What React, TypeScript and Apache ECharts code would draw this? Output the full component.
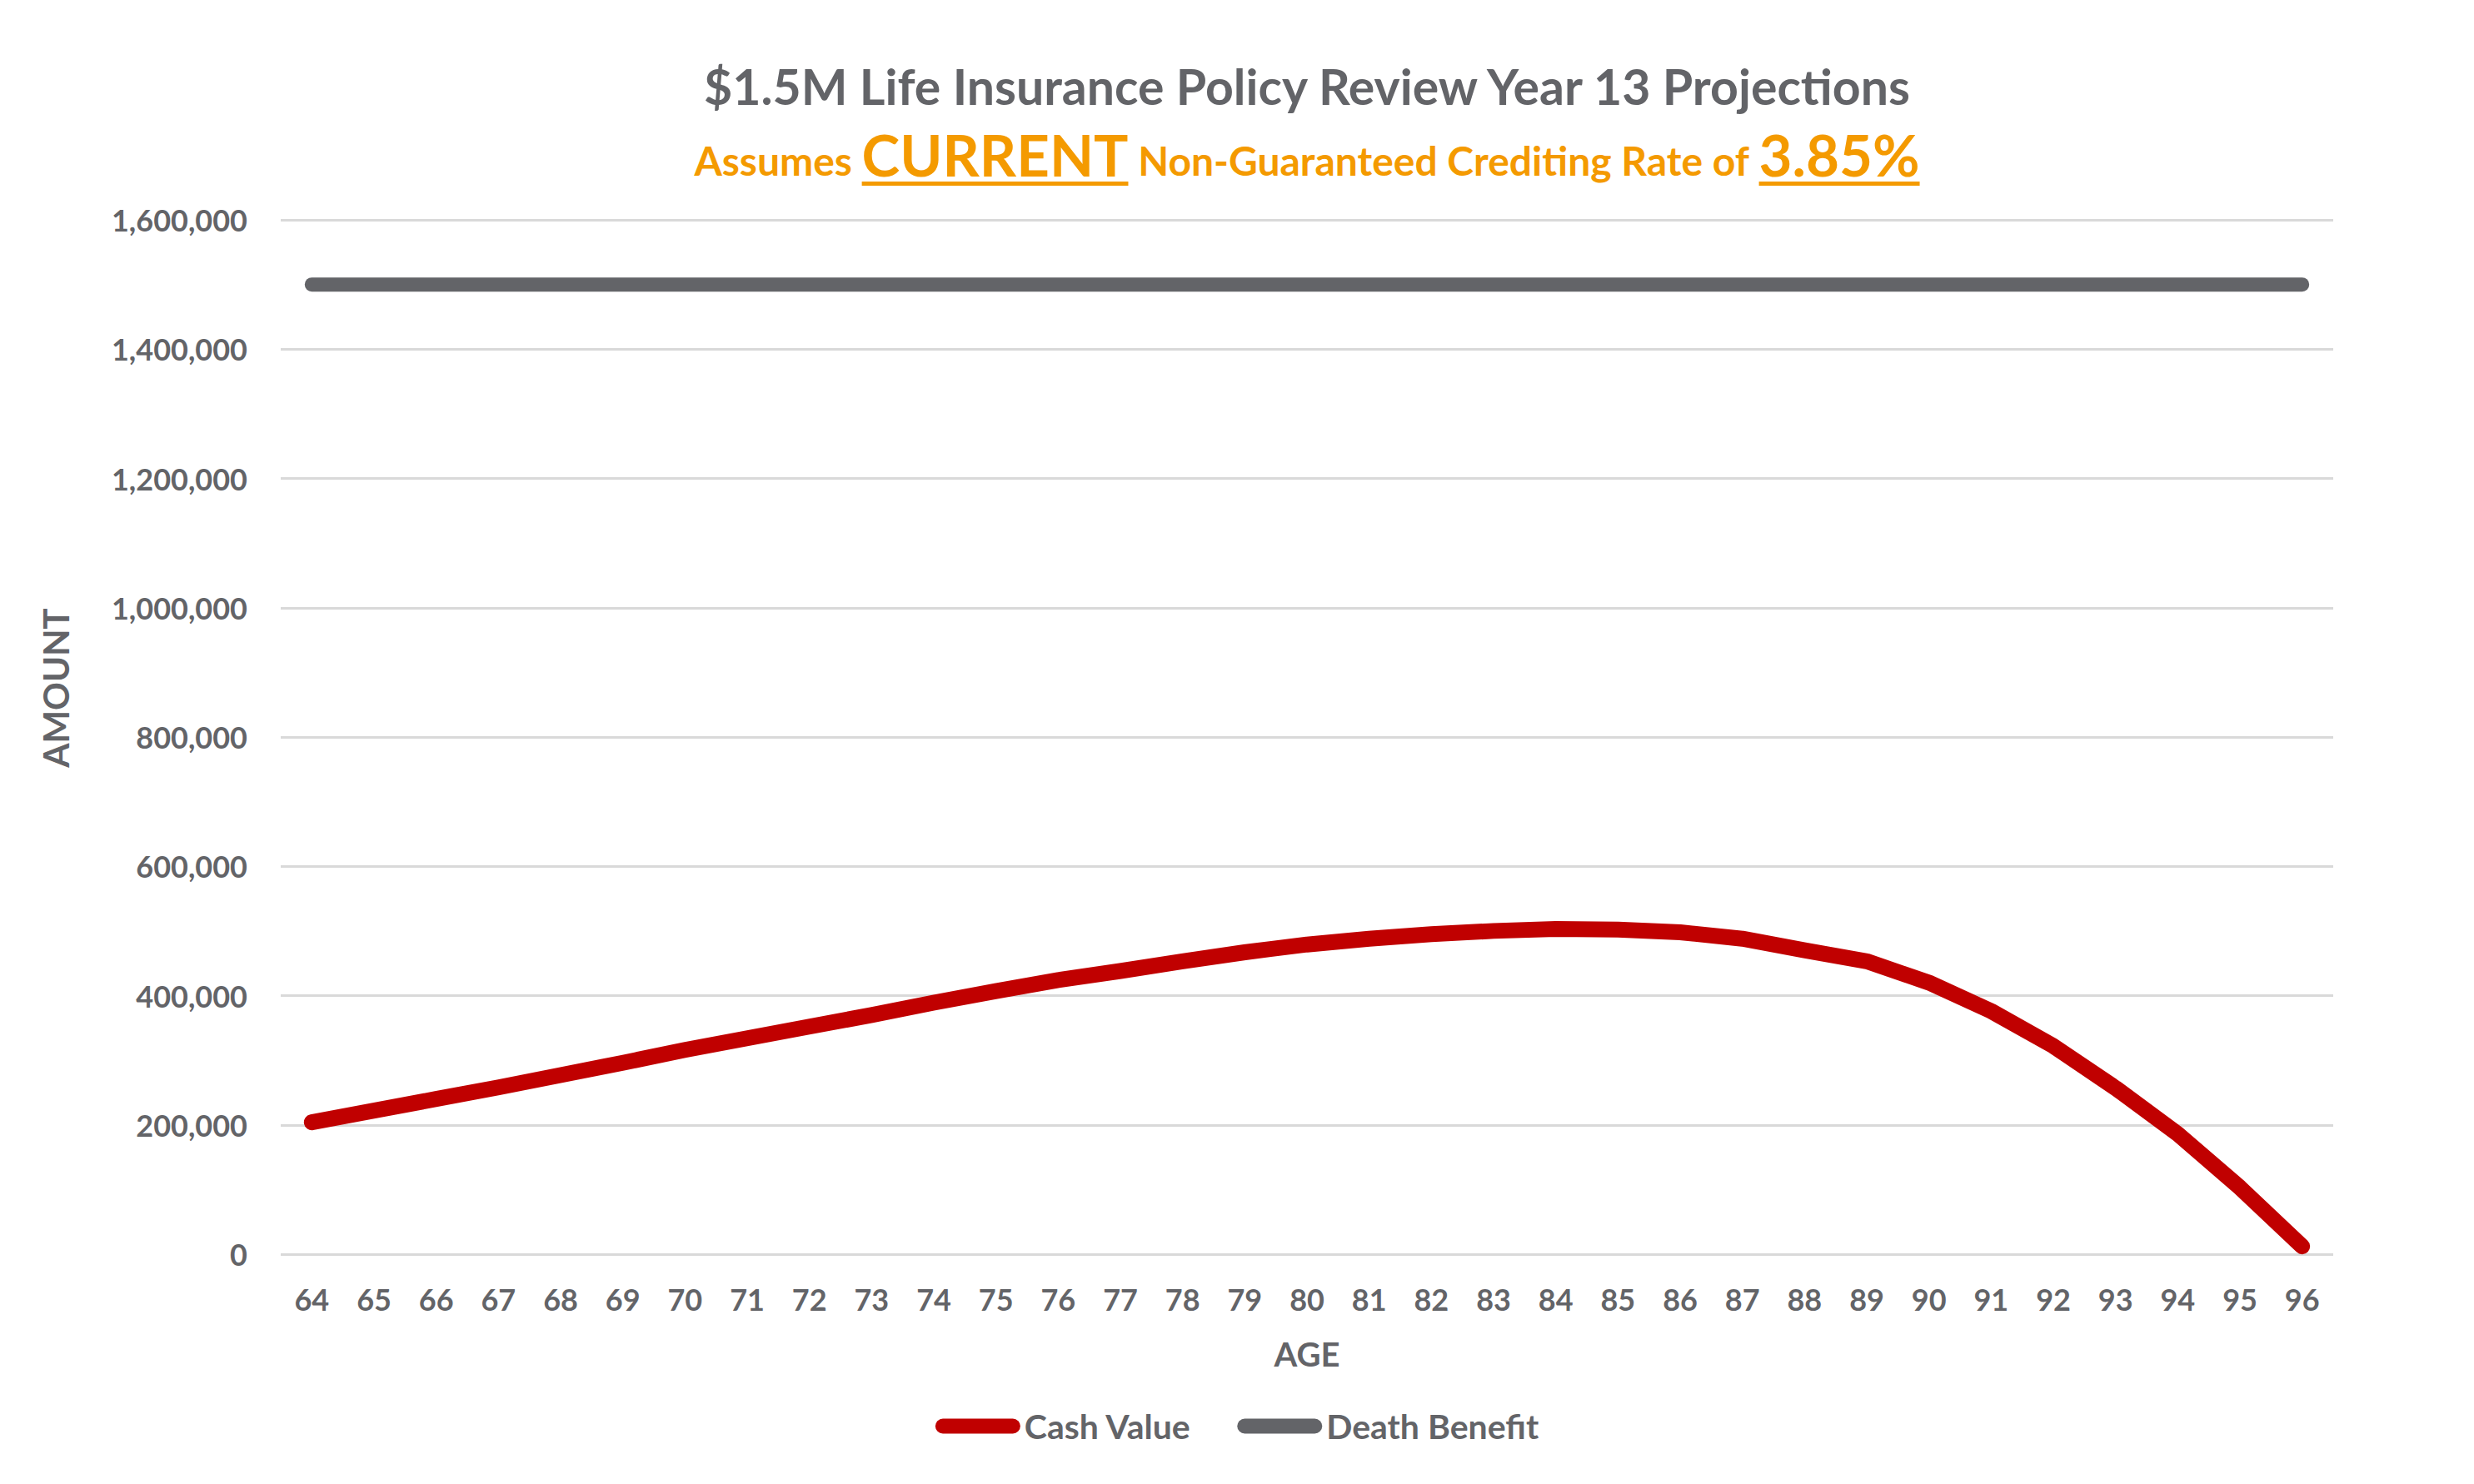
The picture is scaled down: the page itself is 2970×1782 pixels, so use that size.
import React, { useEffect, useRef } from "react";
import * as echarts from "echarts";

const ages: string[] = [
  "64", "65", "66", "67", "68", "69", "70", "71", "72", "73", "74", "75", "76", "77", "78", "79", "80",
  "81", "82", "83", "84", "85", "86", "87", "88", "89", "90", "91", "92", "93", "94", "95", "96",
];

const cashValue: number[] = [
  204000, 222000, 240000, 258000, 277000, 296000, 316000, 334000, 352000, 370000, 389000, 407000,
  424000, 438000, 453000, 467000, 479000, 488000, 495000, 500000, 503000, 502000, 498000, 488000,
  470000, 453000, 420000, 376000, 322000, 257000, 186000, 103000, 12000,
];

const deathBenefit: number[] = [
  1500000, 1500000, 1500000, 1500000, 1500000, 1500000, 1500000, 1500000, 1500000, 1500000, 1500000,
  1500000, 1500000, 1500000, 1500000, 1500000, 1500000, 1500000, 1500000, 1500000, 1500000, 1500000,
  1500000, 1500000, 1500000, 1500000, 1500000, 1500000, 1500000, 1500000, 1500000, 1500000, 1500000,
];

const yMin = 0;
const yMax = 1600000;
const yInterval = 200000;

const titleText = "$1.5M Life Insurance Policy Review Year 13 Projections";
const subtitleParts = [
  { text: "Assumes ", big: false },
  { text: "CURRENT", big: true },
  { text: " Non-Guaranteed Crediting Rate of ", big: false },
  { text: "3.85%", big: true },
];
const seriesNames = ["Cash Value", "Death Benefit"];
const xName = "AGE";
const yName = "AMOUNT";

const W = 2970;
const H = 1782;
const GRID = { left: 337, right: 169, top: 264, bottom: 276 };
const GRAY = "#636468";
const RED = "#C00000";
const ORANGE = "#F49A00";
const FONT = "Lato";

function measure(text: string, size: number): number {
  const c = document.createElement("canvas");
  const ctx = c.getContext("2d");
  if (!ctx) return text.length * size * 0.55;
  ctx.font = `bold ${size}px ${FONT}`;
  return ctx.measureText(text).width;
}

export default function App() {
  const ref = useRef<HTMLDivElement>(null);

  useEffect(() => {
    document.body.style.margin = "0";
    if (!ref.current) return;
    const chart = echarts.init(ref.current, undefined, { renderer: "svg" });

    const centerX = GRID.left + (W - GRID.left - GRID.right) / 2;

    // subtitle layout
    const smallSize = 48;
    const bigSize = 69;
    const baseline = 210;
    const widths = subtitleParts.map((p) => measure(p.text, p.big ? bigSize : smallSize));
    const total = widths.reduce((a, b) => a + b, 0);
    let cx = centerX - total / 2;
    const subElems: any[] = [];
    subtitleParts.forEach((p, i) => {
      const size = p.big ? bigSize : smallSize;
      subElems.push({
        type: "text",
        x: cx,
        y: baseline - 0.358 * size,
        silent: true,
        style: {
          text: p.text,
          fill: ORANGE,
          fontSize: size,
          fontWeight: "bold",
          fontFamily: FONT,
          align: "left",
          verticalAlign: "middle",
        },
      });
      if (p.big) {
        subElems.push({
          type: "rect",
          silent: true,
          shape: { x: cx, y: 218, width: widths[i], height: 5 },
          style: { fill: ORANGE },
        });
      }
      cx += widths[i];
    });

    const legendIcon = "path://M9,0L93,0A9,9,0,0,1,93,18L9,18A9,9,0,0,1,9,0Z";

    chart.setOption({
      animation: false,
      textStyle: { fontFamily: FONT },
      grid: { ...GRID, containLabel: false },
      graphic: [
        {
          type: "text",
          x: centerX,
          y: 103,
          silent: true,
          style: {
            text: titleText,
            fill: GRAY,
            fontSize: 59,
            fontWeight: "bold",
            fontFamily: FONT,
            align: "center",
            verticalAlign: "middle",
          },
        },
        ...subElems,
        {
          type: "text",
          x: 67,
          y: 826,
          rotation: Math.PI / 2,
          silent: true,
          style: {
            text: yName,
            fill: GRAY,
            fontSize: 42,
            fontWeight: "bold",
            fontFamily: FONT,
            align: "center",
            verticalAlign: "middle",
          },
        },
      ],
      legend: {
        data: seriesNames,
        left: "center",
        top: 1687,
        icon: legendIcon,
        itemWidth: 102,
        itemHeight: 18,
        itemGap: 55,
        selectedMode: false,
        textStyle: {
          color: GRAY,
          fontSize: 41,
          fontWeight: "bold",
          fontFamily: FONT,
          lineHeight: 41,
        },
      },
      xAxis: {
        type: "category",
        data: ages,
        boundaryGap: true,
        name: xName,
        nameLocation: "middle",
        nameGap: 100,
        nameTextStyle: { color: GRAY, fontSize: 40, fontWeight: "bold", fontFamily: FONT, lineHeight: 40 },
        axisLine: { show: false },
        axisTick: { show: false },
        axisLabel: {
          color: GRAY,
          fontSize: 36,
          fontWeight: "bold",
          fontFamily: FONT,
          margin: 36,
          lineHeight: 36,
          interval: 0,
        },
        splitLine: { show: false },
      },
      yAxis: {
        type: "value",
        min: yMin,
        max: yMax,
        interval: yInterval,
        axisLine: { show: false },
        axisTick: { show: false },
        axisLabel: {
          color: GRAY,
          fontSize: 36,
          fontWeight: "bold",
          fontFamily: FONT,
          margin: 40,
          formatter: (v: number) => v.toLocaleString("en-US"),
        },
        splitLine: { show: true, lineStyle: { color: "#D9D9D9", width: 3 } },
      },
      series: [
        {
          name: seriesNames[0],
          type: "line",
          data: cashValue,
          symbol: "none",
          smooth: false,
          color: RED,
          itemStyle: { color: RED },
          lineStyle: { color: RED, width: 19, cap: "round", join: "round" },
          emphasis: { disabled: true },
          z: 3,
        },
        {
          name: seriesNames[1],
          type: "line",
          data: deathBenefit,
          symbol: "none",
          color: GRAY,
          itemStyle: { color: GRAY },
          lineStyle: { color: GRAY, width: 17, cap: "round", join: "round" },
          emphasis: { disabled: true },
          z: 2,
        },
      ],
    });

    return () => {
      chart.dispose();
    };
  }, []);

  return <div ref={ref} style={{ width: W, height: H, overflow: "hidden" }} />;
}
